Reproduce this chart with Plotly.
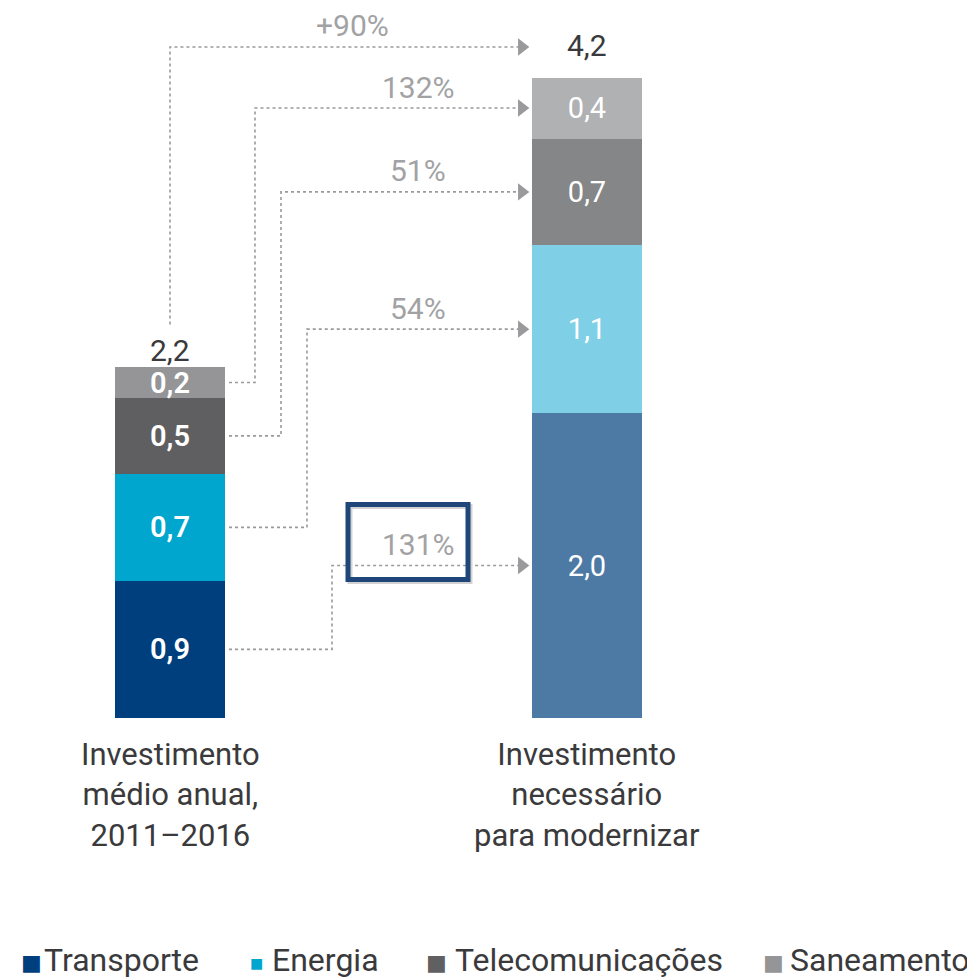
import plotly.graph_objects as go

# data
categories = ["Transporte", "Energia", "Telecomunicações", "Saneamento"]
bar_labels = ["Investimento<br>médio anual,<br>2011–2016",
              "Investimento<br>necessário<br>para modernizar"]
current = [0.9, 0.7, 0.5, 0.2]      # 2011-2016
needed = [2.0, 1.1, 0.7, 0.4]       # para modernizar
totals = [2.2, 4.2]
growth = ["131%", "54%", "51%", "132%"]
total_growth = "+90%"

colors_left = ["#003f7d", "#00a6ce", "#5f5f61", "#959598"]
colors_right = ["#4d7aa5", "#7fd0e6", "#858687", "#b0b1b3"]
legend_colors = ["#003f7d", "#00a6ce", "#606062", "#959598"]

W, H = 975, 980
OFF = 8          # page body margin
PX_X = 417.0     # px per x unit (distance between bars)
PX_Y = 152.5     # px per y unit
X0_PX, Y0_PX = 170 - OFF, 718 - OFF   # figure pixel of (x=0, y=0)
BAR_W = 110 / PX_X

def px_x(p):
    # p given in screen pixels of the reference
    return (p - OFF - X0_PX) / PX_X

fig = go.Figure()
for i, cat in enumerate(categories):
    fig.add_trace(go.Bar(
        x=[0, 1], y=[current[i], needed[i]], width=BAR_W,
        marker=dict(color=[colors_left[i], colors_right[i]], line=dict(width=0)),
        texttemplate="%{y:.1f}", textposition="inside", insidetextanchor="middle",
        constraintext="none",
        textfont=dict(color="white", size=29, family="Roboto", weight=[600, 400]),
        showlegend=False, hoverinfo="skip", name=cat,
    ))

grey = "#9a9a9c"
line_style = dict(color=grey, width=1.6, dash="dot")
shapes = []
annotations = []
x_start = px_x(229)
x_tip = px_x(531)
elbows = [px_x(332), px_x(307), px_x(281), px_x(255)]
pct_font = dict(size=30, color="#a2a2a4", family="Roboto")

cum_l, cum_r = 0, 0
for i in range(len(categories)):
    yl = cum_l + current[i] / 2
    yr = cum_r + needed[i] / 2
    cum_l += current[i]
    cum_r += needed[i]
    xe = elbows[i]
    shapes.append(dict(type="path", xref="x", yref="y",
                       path=f"M {x_start},{yl} L {xe},{yl} L {xe},{yr} L {x_tip - 0.02},{yr}",
                       line=line_style))
    fig.add_trace(go.Scatter(x=[x_tip - 0.022], y=[yr], mode="markers",
                             marker=dict(symbol="triangle-right", size=15, color=grey),
                             showlegend=False, hoverinfo="skip"))
    annotations.append(dict(x=px_x(418), y=yr, text=growth[i], showarrow=False,
                            yshift=21, font=pct_font))
    if i == 0:
        # highlight box around the 131% label
        shapes.append(dict(type="rect", xref="x", yref="y",
                           x0=px_x(350), x1=px_x(470), y0=yr - 16 / PX_Y, y1=yr + 59 / PX_Y,
                           line=dict(color="#d2d2d2", width=5)))
        shapes.append(dict(type="rect", xref="x", yref="y",
                           x0=px_x(348), x1=px_x(468), y0=yr - 14 / PX_Y, y1=yr + 61 / PX_Y,
                           line=dict(color="#1f4679", width=5)))

# total connector
y_tot_start = totals[0] + 0.38
y_tot_end = totals[1] + 0.2
shapes.append(dict(type="path", xref="x", yref="y",
                   path=f"M 0,{y_tot_start} L 0,{y_tot_end} L {x_tip - 0.02},{y_tot_end}",
                   line=line_style))
fig.add_trace(go.Scatter(x=[x_tip - 0.022], y=[y_tot_end], mode="markers",
                         marker=dict(symbol="triangle-right", size=15, color=grey),
                         showlegend=False, hoverinfo="skip"))
annotations.append(dict(x=px_x(352), y=y_tot_end, text=total_growth, showarrow=False,
                        yshift=22, font=pct_font))

# totals on top of bars
for xi, t in enumerate(totals):
    annotations.append(dict(x=xi, y=t, text=f"{t:.1f}".replace(".", ","), showarrow=False,
                            yanchor="bottom", yshift=13,
                            font=dict(size=30, color="#3a3a3c", family="Roboto")))

# category labels below bars
for xi, lab in enumerate(bar_labels):
    annotations.append(dict(x=xi, y=0, text=lab, showarrow=False, yanchor="top", yshift=-16,
                            font=dict(size=31, color="#3a3a3c", family="Roboto")))

# legend
sq_x = [31, 256, 436, 773]
txt_x = [42, 270, 453, 788]
sq_size = [22, 14, 22, 22]
leg_y = 1 - (960 - OFF) / H
for i, cat in enumerate(categories):
    annotations.append(dict(xref="paper", yref="paper", x=(sq_x[i] - OFF) / W, y=leg_y - 0.003,
                            xanchor="center", yanchor="middle", showarrow=False, text="■",
                            font=dict(size=sq_size[i], color=legend_colors[i], family="DejaVu Sans")))
    annotations.append(dict(xref="paper", yref="paper", x=(txt_x[i] - OFF) / W, y=leg_y,
                            xanchor="left", yanchor="middle", showarrow=False, text=cat,
                            font=dict(size=32, color="#3a3a3c", family="Roboto")))

fig.update_layout(
    width=W, height=H,
    margin=dict(l=0, r=0, t=0, b=0),
    plot_bgcolor="white", paper_bgcolor="white",
    barmode="stack", separators=",.",
    xaxis=dict(range=[-X0_PX / PX_X, (W - X0_PX) / PX_X], visible=False, fixedrange=True),
    yaxis=dict(range=[-(H - Y0_PX) / PX_Y, Y0_PX / PX_Y], visible=False, fixedrange=True),
    shapes=shapes, annotations=annotations,
    font=dict(family="Roboto"),
)

fig.write_html("out.html")
